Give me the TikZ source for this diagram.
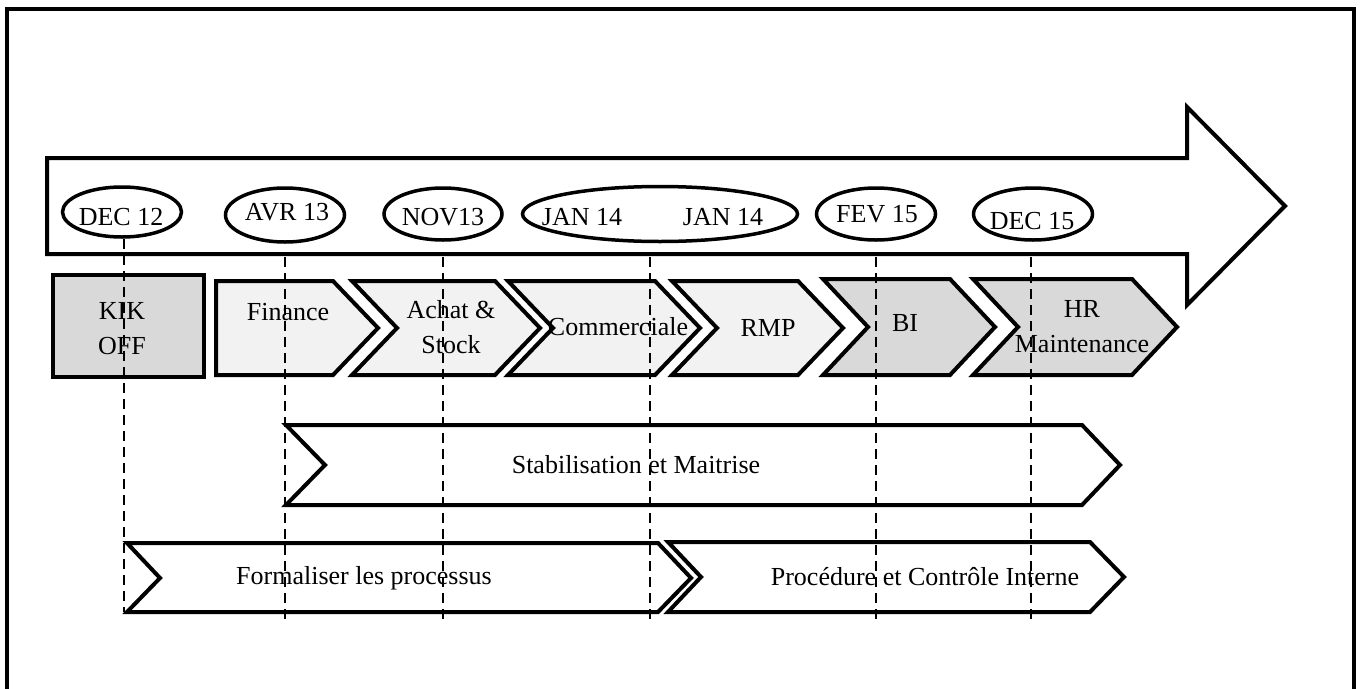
\documentclass[tikz,border=0pt]{standalone}
\usepackage{fontspec}
\setmainfont{Liberation Serif}
\usetikzlibrary{shapes.geometric}
\definecolor{darkfill}{HTML}{D9D9D9}
\definecolor{lightfill}{HTML}{F2F2F2}

\begin{document}
\begin{tikzpicture}[x=1pt,y=-1pt,
  outline/.style={draw=black, line width=4pt, line join=miter},
  date/.style={ellipse, draw=black, line width=3.5pt, fill=white, inner sep=0pt},
  lbl/.style={font=\fontsize{26}{35}\selectfont, align=center, inner sep=0pt},
  guide/.style={draw=black, line width=2pt, dash pattern=on 10pt off 6pt},
]
\useasboundingbox (0,0) rectangle (1362,688);

% outer frame (open at the bottom)
\draw[line width=4pt] (7,700) -- (7,9) -- (1354,9) -- (1354,700);

% time arrow
\draw[outline, fill=white] (47,158) -- (1187,158) -- (1187,107) -- (1285,206)
  -- (1187,305) -- (1187,254) -- (47,254) -- cycle;

% milestones
\node[date, minimum width=119pt, minimum height=50pt] (d12) at (122,212) {};
\node[lbl] (d12t) at (121,217) {DEC 12};
\node[date, minimum width=119pt, minimum height=54pt] (a13) at (285,215) {};
\node[lbl] (a13t) at (287,212) {AVR 13};
\node[date, minimum width=118pt, minimum height=52pt] (n13) at (443,214) {};
\node[lbl] (n13t) at (443,217) {NOV13};
\node[date, minimum width=275pt, minimum height=55pt] (j14) at (660,214) {};
\node[lbl] (j14a) at (582,217) {JAN 14};
\node[lbl] (j14b) at (723,217) {JAN 14};
\node[date, minimum width=119pt, minimum height=52pt] (f15) at (876,214) {};
\node[lbl] (f15t) at (877,214) {FEV 15};
\node[date, minimum width=119pt, minimum height=52pt] (d15) at (1033,214) {};
\node[lbl] (d15t) at (1032,221) {DEC 15};

% modules
\draw[outline, fill=darkfill] (53,275) rectangle (204,377);
\draw[outline, fill=lightfill] (216,281) -- (333,281) -- (378,328) -- (333,375) -- (216,375) -- cycle;
\draw[outline, fill=lightfill] (352,281) -- (495,281) -- (540,328) -- (495,375) -- (352,375) -- (397,328) -- cycle;
\draw[outline, fill=lightfill] (508,281) -- (655,281) -- (700,328) -- (655,375) -- (508,375) -- (553,328) -- cycle;
\draw[outline, fill=lightfill] (672,281) -- (798,281) -- (843,328) -- (798,375) -- (672,375) -- (717,328) -- cycle;
\draw[outline, fill=darkfill] (823,279) -- (950,279) -- (995,327) -- (950,375) -- (823,375) -- (868,327) -- cycle;
\draw[outline, fill=darkfill] (973,279) -- (1132,279) -- (1177,327) -- (1132,375) -- (973,375) -- (1018,327) -- cycle;

\node[lbl] (kik) at (122,329) {KIK\\OFF};
\node[lbl] (fin) at (288,312) {Finance};
\node[lbl] (ach) at (451,327) {Achat \&\\Stock};
\node[lbl] (com) at (618,327) {Commerciale};
\node[lbl] (rmp) at (768,328) {RMP};
\node[lbl] (bi) at (905,323) {BI};
\node[lbl] (hr) at (1082,327) {HR\\Maintenance};

% phases
\draw[outline, fill=white] (286,425) -- (1082,425) -- (1120,465) -- (1082,505) -- (286,505) -- (325,465) -- cycle;
\node[lbl] (stab) at (636,465) {Stabilisation et Maitrise};

\draw[outline, fill=white] (127,543) -- (658,543) -- (691,578) -- (658,612) -- (127,612) -- (160,578) -- cycle;
\node[lbl] (form) at (364,578) {Formaliser les processus};

\draw[outline, fill=white] (668,542) -- (1090,542) -- (1124,577) -- (1090,612) -- (668,612) -- (701,577) -- cycle;
\node[lbl] (proc) at (925,577) {Procédure et Contrôle Interne};

% milestone guides
\coordinate (g12) at (124,612);
\coordinate (s13) at (285,257);  \coordinate (g13) at (285,620);
\coordinate (s13n) at (443,257); \coordinate (g13n) at (443,620);
\coordinate (s14) at (650,257);  \coordinate (g14) at (650,620);
\coordinate (s15) at (876,257);  \coordinate (g15) at (876,620);
\coordinate (s15d) at (1031,257); \coordinate (g15d) at (1031,620);

\draw[guide] (d12.south -| g12) -- (g12);
\draw[guide] (s13) -- (g13);
\draw[guide] (s13n) -- (g13n);
\draw[guide] (s14) -- (g14);
\draw[guide] (s15) -- (g15);
\draw[guide] (s15d) -- (g15d);
\end{tikzpicture}
\end{document}
